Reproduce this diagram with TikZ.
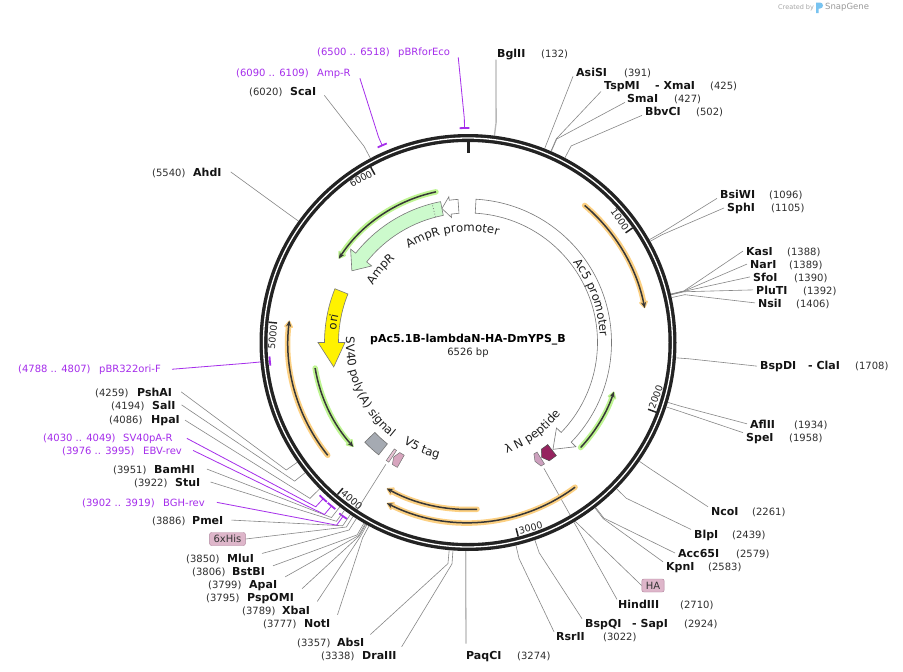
\documentclass[tikz,border=0pt]{standalone}
\usepackage{fontspec}
\setmainfont{DejaVu Sans}
\usetikzlibrary{arrows.meta,decorations.text}
\definecolor{primc}{RGB}{165,45,235}
\definecolor{orfO}{RGB}{252,208,130}
\definecolor{orfG}{RGB}{190,245,145}
\definecolor{orfD}{RGB}{55,55,55}
\definecolor{amprc}{RGB}{204,250,204}
\definecolor{svc}{RGB}{165,170,178}
\definecolor{pinkc}{RGB}{215,165,190}
\definecolor{hisc}{RGB}{232,195,212}
\definecolor{lamc}{RGB}{150,35,95}
\definecolor{hac}{RGB}{205,160,190}
\definecolor{boxc}{RGB}{222,182,202}
\definecolor{boxd}{RGB}{175,130,155}
\definecolor{ringc}{RGB}{35,35,35}
\definecolor{featl}{RGB}{120,120,120}
\definecolor{linec}{RGB}{135,135,135}
\definecolor{logoc}{RGB}{120,195,240}
\newcommand\flab{\fontsize{11.7}{14}\selectfont}
\newcommand\FeatArrH[6]{\draw[#6] (#1:129.5) arc[start angle=#1,end angle=#2,radius=129.5] -- (#2:#4) -- (#3:136.5) -- (#2:#5) -- (#2:143.5) arc[start angle=#2,end angle=#1,radius=143.5] -- cycle;}
\newcommand\FeatPt[4]{\draw[#4] (#1:129.5) arc[start angle=#1,end angle=#2,radius=129.5] -- (#3:136.5) -- (#2:143.5) arc[start angle=#2,end angle=#1,radius=143.5] -- cycle;}
\newcommand\FeatBox[3]{\draw[#3] (#1:129.5) arc[start angle=#1,end angle=#2,radius=129.5] -- (#2:143.5) arc[start angle=#2,end angle=#1,radius=143.5] -- cycle;}
\newcommand\MkSite[3]{\coordinate (#1r) at ({90-#2/6526*360}:208.5); \coordinate (#1b) at ({90-#2/6526*360}:#3);}
\newcommand\MkPrim[5]{%
 \draw[primc,line width=1.8pt] ({90-#2/6526*360+0.8}:#4) arc[start angle={90-#2/6526*360+0.8},end angle={90-#3/6526*360-0.8},radius=#4];
 \coordinate (#1m) at ({90-(#2+#3)/2/6526*360}:#4);
 \coordinate (#1b) at ({90-(#2+#3)/2/6526*360}:#5);}
\newcommand\LabR[6]{\node[enz] (#1) at (#2,-#3) {#4}; \node[num] (#1n) at (#5,-#3) {#6};}
\newcommand\LabL[6]{\node[num] (#1n) at (#2,-#3) {#4}; \node[enz] (#1) at (#5,-#3) {#6};}
\newcommand\LabP[6]{\node[pnum] (#1n) at (#2,-#3) {#4}; \node[pnum] (#1) at (#5,-#3) {#6};}
\newcommand\OrfArc[4]{%
 \draw[line width=5.5pt, #1, line cap=round, line join=round, -{Triangle[length=8pt,width=10pt,round]}] (#2:#4) arc[start angle=#2,end angle=#3,radius=#4];
 \draw[line width=1.5pt, orfD, -{Stealth[length=6pt,width=5pt]}] (#2:#4) arc[start angle=#2,end angle=#3,radius=#4];}
\begin{document}
\begin{tikzpicture}[x=1pt,y=1pt,
  enz/.style={font=\fontsize{11}{13}\selectfont\bfseries, text=black!92, anchor=base west, inner sep=0pt},
  num/.style={font=\fontsize{10}{12}\selectfont, text=black!82, anchor=base west, inner sep=0pt},
  pnum/.style={font=\fontsize{10}{12}\selectfont, text=primc, anchor=base west, inner sep=0pt},
  elk/.style={draw=linec, line width=0.6pt},
  elkl/.style={draw=black!28, line width=1.3pt},
  plk/.style={draw=primc, line width=0.8pt},
  tk/.style={font=\fontsize{9.5}{11}\selectfont, inner sep=0pt, text=black!85},
  tagbox/.style={draw=boxd, fill=boxc, rounded corners=2pt, font=\fontsize{10}{12}\selectfont, inner xsep=4pt, inner ysep=0pt, minimum height=13pt, text=black!80},
  whitest/.style={fill=white, draw=featl, line width=0.6pt},
  amprst/.style={fill=amprc, draw=featl, line width=0.6pt},
  orist/.style={fill=yellow, draw=featl, line width=0.6pt},
  svst/.style={fill=svc, draw=black!55, line width=0.6pt},
  v5st/.style={fill=pinkc, draw=black!55, line width=0.5pt},
  hisst/.style={fill=hisc, draw=black!55, line width=0.5pt},
  lamst/.style={fill=lamc, draw=black!70, line width=0.5pt},
  hast/.style={fill=hac, draw=black!55, line width=0.5pt}]
\useasboundingbox (0,0) rectangle (903,-672);
\fill[white] (0,0) rectangle (903,-672);

% ---------- sites and primers ----------
\begin{scope}[shift={(468,-342.5)}]
 \MkSite{BglII}{132}{222}
 \MkSite{AsiSI}{391}{222}
 \MkSite{TspMI}{425}{222}
 \MkSite{SmaI}{427}{222}
 \MkSite{BbvCI}{502}{222}
 \MkSite{BsiWI}{1096}{222}
 \MkSite{SphI}{1105}{222}
 \MkSite{KasI}{1388}{222}
 \MkSite{NarI}{1389}{222}
 \MkSite{SfoI}{1390}{222}
 \MkSite{PluTI}{1392}{222}
 \MkSite{NsiI}{1406}{222}
 \MkSite{BspDI}{1708}{222}
 \MkSite{AflII}{1934}{222}
 \MkSite{SpeI}{1958}{222}
 \MkSite{NcoI}{2261}{222}
 \MkSite{BlpI}{2439}{222}
 \MkSite{Acc65I}{2579}{222}
 \MkSite{KpnI}{2583}{222}
 \MkSite{HindIII}{2710}{214}
 \MkSite{BspQI}{2924}{222}
 \MkSite{RsrII}{3022}{222}
 \MkSite{PaqCI}{3274}{222}
 \MkSite{DraIII}{3338}{222}
 \MkSite{AbsI}{3357}{222}
 \MkSite{NotI}{3777}{222}
 \MkSite{XbaI}{3789}{222}
 \MkSite{PspOMI}{3795}{222}
 \MkSite{ApaI}{3799}{222}
 \MkSite{BstBI}{3806}{222}
 \MkSite{MluI}{3850}{222}
 \MkSite{PmeI}{3886}{222}
 \MkSite{StuI}{3922}{222}
 \MkSite{BamHI}{3951}{222}
 \MkSite{HpaI}{4086}{222}
 \MkSite{SalI}{4194}{222}
 \MkSite{PshAI}{4259}{222}
 \MkSite{AhdI}{5540}{222}
 \MkSite{ScaI}{6020}{222}
 \MkPrim{Eco}{6500}{6518}{214.5}{224}
 \MkPrim{AmpRp}{6090}{6109}{215}{224}
 \MkPrim{oriF}{4788}{4807}{199}{222}
 \MkPrim{SVR}{4030}{4049}{213}{224}
 \MkPrim{EBV}{3976}{3995}{213}{224}
 \MkPrim{BGH}{3902}{3919}{214}{225}
 \coordinate (HAf) at (-58.9:147);
 \coordinate (HAb) at (-59.4:204);
 \coordinate (Hisf) at (-124:147);
 \coordinate (Hisb) at (-123.4:221);
\end{scope}

% ---------- labels, right side ----------
\LabR{BglII}{497}{57}{BglII}{541}{(132)}
\LabR{AsiSI}{576}{76}{AsiSI}{624}{(391)}
\LabR{TspMI}{604}{89}{TspMI}{710}{(425)}
\node[enz] (XmaI) at (655,-89) {- XmaI};
\LabR{SmaI}{627}{102}{SmaI}{674}{(427)}
\LabR{BbvCI}{645}{115}{BbvCI}{696}{(502)}
\LabR{BsiWI}{720}{198}{BsiWI}{769}{(1096)}
\LabR{SphI}{727}{211}{SphI}{771}{(1105)}
\LabR{KasI}{746}{255}{KasI}{787}{(1388)}
\LabR{NarI}{750}{268}{NarI}{789}{(1389)}
\LabR{SfoI}{753}{281}{SfoI}{794}{(1390)}
\LabR{PluTI}{756}{294}{PluTI}{803}{(1392)}
\LabR{NsiI}{758}{307}{NsiI}{796}{(1406)}
\LabR{BspDI}{760}{369}{BspDI}{855}{(1708)}
\node[enz] (ClaI) at (808,-369) {- ClaI};
\LabR{AflII}{750}{428}{AflII}{794}{(1934)}
\LabR{SpeI}{746}{441}{SpeI}{789}{(1958)}
\LabR{NcoI}{711}{515}{NcoI}{752}{(2261)}
\LabR{BlpI}{694}{538}{BlpI}{732}{(2439)}
\LabR{Acc65I}{678}{557}{Acc65I}{736}{(2579)}
\LabR{KpnI}{666}{570}{KpnI}{708}{(2583)}
\LabR{HindIII}{618}{608}{HindIII}{680}{(2710)}
\LabR{BspQI}{585}{627}{BspQI}{684}{(2924)}
\node[enz] (SapI) at (632,-627) {- SapI};
\LabR{RsrII}{556}{640}{RsrII}{603}{(3022)}
\LabR{PaqCI}{466}{659}{PaqCI}{517}{(3274)}
% ---------- labels, left side ----------
\LabL{DraIII}{321}{659}{(3338)}{362}{DraIII}
\LabL{AbsI}{297}{646}{(3357)}{337}{AbsI}
\LabL{NotI}{263}{627}{(3777)}{304}{NotI}
\LabL{XbaI}{242}{614}{(3789)}{282}{XbaI}
\LabL{PspOMI}{206}{601}{(3795)}{247}{PspOMI}
\LabL{ApaI}{208}{588}{(3799)}{249}{ApaI}
\LabL{BstBI}{192}{575}{(3806)}{232}{BstBI}
\LabL{MluI}{186}{562}{(3850)}{227}{MluI}
\LabL{PmeI}{152}{524}{(3886)}{192}{PmeI}
\LabP{BGH}{82}{506}{(3902 .. 3919)}{163}{BGH-rev}
\LabL{StuI}{134}{486}{(3922)}{175}{StuI}
\LabL{BamHI}{113}{473}{(3951)}{154}{BamHI}
\LabP{EBV}{62}{454}{(3976 .. 3995)}{143}{EBV-rev}
\LabP{SVR}{43}{441}{(4030 .. 4049)}{123}{SV40pA-R}
\LabL{HpaI}{109}{423}{(4086)}{151}{HpaI}
\LabL{SalI}{111}{409}{(4194)}{152}{SalI}
\LabL{PshAI}{95}{396}{(4259)}{137}{PshAI}
\LabP{oriF}{18}{372}{(4788 .. 4807)}{99}{pBR322ori-F}
\LabL{AhdI}{152}{176}{(5540)}{193}{AhdI}
\LabL{ScaI}{249}{95}{(6020)}{290}{ScaI}
\LabP{AmpRp}{236}{76}{(6090 .. 6109)}{317}{Amp-R}
\LabP{Eco}{317}{55}{(6500 .. 6518)}{398}{pBRforEco}
\node[tagbox] (HAbox) at (653,-585.5) {HA};
\node[tagbox] (Hisbox) at (227.5,-539) {6xHis};

% ---------- connectors ----------
\draw[elkl] (BglIIr) -- (BglIIb) -- ([xshift=-1pt]BglII.south west);
\draw[elk] (AsiSIr) -- (AsiSIb) -- ([xshift=-3pt]AsiSI.south west);
\draw[elk] (TspMIr) -- (TspMIb) -- ([xshift=-3pt]TspMI.south west);
\draw[elk] (SmaIr) -- (SmaIb) -- ([xshift=-2pt]SmaI.south west);
\draw[elk] (BbvCIr) -- (BbvCIb) -- ([xshift=-3pt]BbvCI.south west);
\draw[elk] (BsiWIr) -- (BsiWIb) -- ([xshift=-3pt]BsiWI.south west);
\draw[elk] (SphIr) -- (SphIb) -- ([xshift=-3pt]SphI.west);
\draw[elk] (KasIr) -- (KasIb) -- ([xshift=-3pt]KasI.west);
\draw[elk] (NarIr) -- (NarIb) -- ([xshift=-3pt]NarI.west);
\draw[elk] (SfoIr) -- (SfoIb) -- ([xshift=-3pt]SfoI.west);
\draw[elk] (PluTIr) -- (PluTIb) -- ([xshift=-3pt]PluTI.west);
\draw[elk] (NsiIr) -- (NsiIb) -- ([xshift=-3pt]NsiI.west);
\draw[elk] (BspDIr) -- (BspDIb) -- ([xshift=-3pt]BspDI.west);
\draw[elk] (AflIIr) -- (AflIIb) -- ([xshift=-3pt]AflII.west);
\draw[elk] (SpeIr) -- (SpeIb) -- ([xshift=-3pt]SpeI.north west);
\draw[elk] (NcoIr) -- (NcoIb) -- ([xshift=-3pt]NcoI.north west);
\draw[elk] (BlpIr) -- (BlpIb) -- ([xshift=-3pt]BlpI.north west);
\draw[elk] (Acc65Ir) -- (Acc65Ib) -- ([xshift=-3pt]Acc65I.west);
\draw[elk] (KpnIr) -- (KpnIb) -- ([xshift=-3pt]KpnI.north west);
\draw[elk] (HindIIIr) -- (HindIIIb) -- ([xshift=-1pt]HindIII.north west);
\draw[elk] (BspQIr) -- (BspQIb) -- ([xshift=-3pt]BspQI.north west);
\draw[elk] (RsrIIr) -- (RsrIIb) -- ([xshift=-2pt]RsrII.north west);
\draw[elkl] (PaqCIr) -- (PaqCIb) -- ([yshift=7pt]PaqCI.north west);
\draw[elk] (DraIIIr) -- (DraIIIb) -- ([xshift=5pt,yshift=4pt]DraIII.north east);
\draw[elk] (AbsIr) -- (AbsIb) -- ([xshift=6pt,yshift=3pt]AbsI.north east);
\draw[elk] (NotIr) -- (NotIb) -- ([xshift=7pt,yshift=4pt]NotI.north east);
\draw[elk] (XbaIr) -- (XbaIb) -- ([xshift=7pt,yshift=4pt]XbaI.north east);
\draw[elk] (PspOMIr) -- (PspOMIb) -- ([xshift=8pt,yshift=4pt]PspOMI.north east);
\draw[elk] (ApaIr) -- (ApaIb) -- ([xshift=8pt,yshift=3pt]ApaI.north east);
\draw[elk] (BstBIr) -- (BstBIb) -- ([xshift=8pt,yshift=1pt]BstBI.north east);
\draw[elk] (MluIr) -- (MluIb) -- ([xshift=8pt,yshift=0pt]MluI.north east);
\draw[elk] (PmeIr) -- (PmeIb) -- ([xshift=8pt]PmeI.east);
\draw[elk] (StuIr) -- (StuIb) -- ([xshift=10pt]StuI.east);
\draw[elk] (BamHIr) -- (BamHIb) -- ([xshift=12pt]BamHI.east);
\draw[elk] (HpaIr) -- (HpaIb) -- ([xshift=5pt]HpaI.east);
\draw[elk] (SalIr) -- (SalIb) -- ([xshift=6pt]SalI.east);
\draw[elk] (PshAIr) -- (PshAIb) -- ([xshift=9pt]PshAI.east);
\draw[elk] (AhdIr) -- (AhdIb) -- ([xshift=9pt]AhdI.east);
\draw[elk] (ScaIr) -- (ScaIb) -- ([xshift=8pt]ScaI.south east);
\draw[plk] (Ecom) -- (Ecob) -- ([xshift=8pt]Eco.south east);
\draw[plk] (AmpRpm) -- (AmpRpb) -- ([xshift=9pt]AmpRp.south east);
\draw[plk] (oriFm) -- (oriFb) -- ([xshift=11pt]oriF.east);
\draw[plk] (SVRm) -- (SVRb) -- ([xshift=14pt]SVR.east);
\draw[plk] (EBVm) -- (EBVb) -- ([xshift=11pt]EBV.east);
\draw[plk] (BGHm) -- (BGHb) -- ([xshift=12pt]BGH.east);
\draw[elk] (HAf) -- (HAb) -- (HAbox.west);
\draw[elk] (Hisf) -- (Hisb) -- (Hisbox.east);

% ---------- map ----------
\begin{scope}[shift={(468,-342.5)}]
 \draw[ringc, line width=8pt] (0,0) circle[radius=204.5];
 \draw[white, line width=1.3pt] (0,0) circle[radius=204.5];
 \draw[ringc, line width=3pt] (90:201) -- (90:190);
 \foreach \t in {34.84,-20.33,-75.49,-130.66,-185.82,-240.98}
   \draw[ringc, line width=1.5pt] (\t:200.5) -- (\t:192);
 \node[tk, rotate=-55.16] (k1) at (39.04:195.5) {1000};
 \node[tk, rotate=69.67] (k2) at (-16.13:195.5) {2000};
 \node[tk, rotate=14.51] (k3) at (-71.29:195.5) {3000};
 \node[tk, rotate=-40.66] (k4) at (-126.46:195.5) {4000};
 \node[tk, rotate=84.18] (k5) at (-181.62:195.5) {5000};
 \node[tk, rotate=29.02] (k6) at (-236.78:195.5) {6000};

 % ORFs
 \OrfArc{orfO}{49.6}{11}{180}
 \OrfArc{orfO}{-141.2}{-187}{180}
 \OrfArc{orfO}{-53.5}{-116.8}{180}
 \OrfArc{orfO}{-86.9}{-119.1}{167}
 \OrfArc{orfG}{102}{147}{154}
 \OrfArc{orfG}{-170.5}{-137.7}{155}
 \OrfArc{orfG}{-43}{-18.6}{154}

 % features
 \FeatArrH{86.8}{-44}{-51.5}{123}{150}{whitest}
 \FeatArrH{101}{141.5}{148.3}{123}{150}{amprst}
 \draw[featl, dotted, line width=0.8pt] (104.5:129.5) -- (104.5:143.5);
 \FeatArrH{94}{97.5}{101}{126}{147}{whitest}
 \FeatArrH{158}{180}{190.3}{123}{150}{orist}
 \FeatBox{-128.5}{-136}{svst}
 \FeatPt{-119.5}{-121.8}{-123}{v5st}
 \FeatBox{-123.5}{-124.7}{hisst}
 \FeatPt{-52}{-55.5}{-57.3}{lamst}
 \FeatPt{-57.8}{-59.4}{-60.6}{hast}

 % feature labels
 \path[decorate, decoration={text along path, text align=center, text color=black!88, text={|\flab|Ac5 promoter}}] (55:132) arc[start angle=55, end angle=-15, radius=132];
 \path[decorate, decoration={text along path, text align=center, text color=black!88, text={|\flab|AmpR promoter}}] (146.3:111) arc[start angle=146.3, end angle=50.3, radius=111];
 \path[decorate, decoration={text along path, text align=center, text color=black!88, text={|\flab|AmpR}}] (170:111) arc[start angle=170, end angle=110, radius=111];
 \path[decorate, decoration={text along path, text align=center, text color=black!88, text={|\flab|ori}}] (201.3:132.5) arc[start angle=201.3, end angle=141.3, radius=132.5];
 \path[decorate, decoration={text along path, text align=center, text color=black!88, text={|\flab|SV40 poly(A) signal}}] (-215.8:122) arc[start angle=-215.8, end angle=-95.8, radius=122];
 \path[decorate, decoration={text along path, text align=center, text color=black!88, text={|\flab|V5 tag}}] (-143.4:120) arc[start angle=-143.4, end angle=-83.4, radius=120];
 \path[decorate, decoration={text along path, text align=center, text color=black!88, text={|\flab|λ N peptide}}] (-94.2:117) arc[start angle=-94.2, end angle=-14.2, radius=117];
\end{scope}

% ---------- title ----------
\node[font=\fontsize{11}{13}\selectfont\bfseries, anchor=base, inner sep=0pt] (title) at (468,-342.5) {pAc5.1B-lambdaN-HA-DmYPS\_B};
\node[font=\fontsize{10}{12}\selectfont, anchor=base, inner sep=0pt, text=black!85] (len) at (468,-355) {6526 bp};

% ---------- watermark ----------
\node[font=\fontsize{6.5}{8}\selectfont, text=black!35, anchor=west, inner sep=0pt] (cb) at (778,-7.5) {Created by};
\fill[logoc] (816,-2.5) rectangle (818.6,-13) (818.6,-2.5) -- (820,-2.5) arc[start angle=90,end angle=-90,radius=3] -- (818.6,-8.5) -- cycle;
\node[font=\fontsize{8.5}{10}\selectfont, text=black!40, anchor=west, inner sep=0pt] (sg) at (825,-7.5) {SnapGene};
\end{tikzpicture}
\end{document}
